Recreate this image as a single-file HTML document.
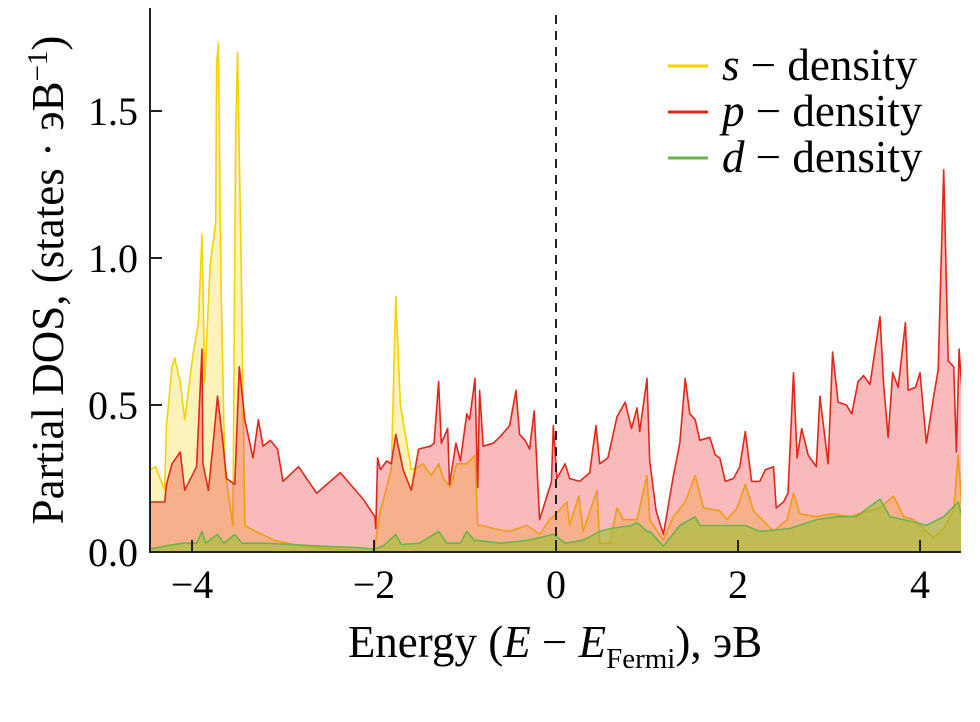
<!DOCTYPE html>
<html><head><meta charset="utf-8"><style>
html,body{margin:0;padding:0;background:#fff;}
svg{display:block;font-family:"Liberation Serif",serif;}
</style></head><body>
<svg id="chart" width="980" height="722">
<defs><clipPath id="plotclip"><rect x="150" y="8" width="811" height="545"/></clipPath></defs>
<g id="series" clip-path="url(#plotclip)"></g>
<line x1="556" y1="15" x2="556" y2="552" stroke="#222" stroke-width="2" stroke-dasharray="9,7"/>
<line x1="150" y1="8" x2="150" y2="553" stroke="#222" stroke-width="2"/>
<line x1="149" y1="552" x2="961" y2="552" stroke="#222" stroke-width="2"/>
<g id="ticks"></g>
<text x="555" y="657" font-size="45" text-anchor="middle">Energy (<tspan font-style="italic">E</tspan> − <tspan font-style="italic">E</tspan><tspan font-size="29" dy="11">Fermi</tspan><tspan dy="-11">), эВ</tspan></text>
<text transform="translate(63,280) rotate(-90)" font-size="45" text-anchor="middle">Partial DOS, (states · эВ<tspan font-size="29" dy="-16">−1</tspan><tspan dy="16">)</tspan></text>
<g>
<line x1="668" y1="66" x2="708" y2="66" stroke="#f5d300" stroke-width="3"/>
<text x="722" y="80" font-size="45"><tspan font-style="italic">s</tspan> − density</text>
<line x1="668" y1="112" x2="708" y2="112" stroke="#e0281a" stroke-width="3"/>
<text x="722" y="126" font-size="45"><tspan font-style="italic">p</tspan> − density</text>
<line x1="668" y1="158" x2="708" y2="158" stroke="#6ab44a" stroke-width="3"/>
<text x="722" y="172" font-size="45"><tspan font-style="italic">d</tspan> − density</text>
</g>
</svg>
<script>
const xTicks=[-4,-2,0,2,4];
const xTickLabels=["−4","−2","0","2","4"];
const yTicks=[0,0.5,1.0,1.5];
const yTickLabels=["0.0","0.5","1.0","1.5"];
const pEnergy=[-4.46,-4.30,-4.28,-4.22,-4.13,-4.08,-3.95,-3.89,-3.88,-3.82,-3.77,-3.72,-3.67,-3.62,-3.53,-3.48,-3.42,-3.33,-3.27,-3.22,-3.14,-3.06,-3.00,-2.83,-2.63,-2.37,-2.12,-1.99,-1.98,-1.96,-1.93,-1.86,-1.81,-1.76,-1.68,-1.59,-1.51,-1.38,-1.34,-1.29,-1.26,-1.19,-1.17,-1.10,-1.05,-0.98,-0.95,-0.89,-0.86,-0.84,-0.80,-0.69,-0.62,-0.51,-0.44,-0.40,-0.34,-0.29,-0.24,-0.18,-0.10,-0.05,-0.03,0.01,0.10,0.15,0.26,0.37,0.44,0.48,0.57,0.67,0.76,0.83,0.89,0.92,1.00,1.03,1.10,1.18,1.29,1.36,1.42,1.47,1.53,1.58,1.69,1.75,1.80,1.86,1.95,2.02,2.08,2.15,2.24,2.30,2.39,2.42,2.50,2.55,2.61,2.65,2.70,2.77,2.86,2.90,2.99,3.04,3.10,3.19,3.25,3.32,3.38,3.45,3.56,3.60,3.65,3.70,3.76,3.84,3.87,3.95,4.00,4.07,4.15,4.20,4.26,4.31,4.37,4.40,4.43,4.46];
const pValues=[0.17,0.17,0.23,0.30,0.34,0.21,0.29,0.69,0.30,0.21,0.36,0.53,0.40,0.25,0.23,0.63,0.45,0.32,0.45,0.36,0.38,0.35,0.24,0.29,0.20,0.27,0.18,0.12,0.08,0.32,0.28,0.31,0.30,0.40,0.28,0.21,0.35,0.36,0.37,0.58,0.37,0.42,0.23,0.37,0.31,0.47,0.45,0.59,0.22,0.55,0.36,0.37,0.39,0.43,0.55,0.40,0.38,0.35,0.48,0.11,0.19,0.24,0.43,0.25,0.30,0.25,0.24,0.27,0.43,0.30,0.32,0.46,0.51,0.42,0.49,0.41,0.59,0.31,0.14,0.06,0.26,0.37,0.59,0.47,0.45,0.38,0.39,0.33,0.32,0.24,0.25,0.29,0.41,0.24,0.24,0.28,0.29,0.15,0.17,0.20,0.61,0.32,0.42,0.33,0.29,0.53,0.30,0.68,0.51,0.50,0.47,0.58,0.60,0.57,0.80,0.57,0.39,0.61,0.56,0.78,0.55,0.56,0.61,0.37,0.53,0.62,1.30,0.65,0.63,0.34,0.69,0.55];
const sEnergy=[-4.46,-4.40,-4.30,-4.28,-4.22,-4.19,-4.13,-4.08,-3.99,-3.93,-3.89,-3.86,-3.80,-3.74,-3.73,-3.71,-3.68,-3.64,-3.55,-3.52,-3.50,-3.46,-3.42,-3.30,-3.10,-2.80,-2.45,-2.00,-1.97,-1.93,-1.86,-1.81,-1.76,-1.71,-1.59,-1.51,-1.46,-1.37,-1.29,-1.24,-1.16,-1.09,-0.98,-0.89,-0.86,-0.80,-0.69,-0.51,-0.32,-0.18,-0.07,-0.03,0.12,0.15,0.25,0.30,0.45,0.48,0.59,0.67,0.74,0.89,1.00,1.03,1.18,1.29,1.42,1.53,1.62,1.80,1.88,1.99,2.08,2.17,2.39,2.54,2.61,2.68,2.86,3.03,3.23,3.45,3.56,3.71,3.82,3.93,4.07,4.15,4.26,4.37,4.42,4.46];
const sValues=[0.28,0.29,0.21,0.43,0.63,0.66,0.58,0.45,0.67,0.78,1.08,0.58,0.98,1.12,1.66,1.73,0.90,0.28,0.09,1.43,1.70,1.00,0.09,0.07,0.04,0.02,0.01,0.0,0.06,0.14,0.22,0.28,0.87,0.50,0.28,0.29,0.30,0.26,0.30,0.25,0.22,0.30,0.30,0.33,0.09,0.09,0.08,0.07,0.09,0.06,0.11,0.12,0.17,0.09,0.19,0.07,0.21,0.03,0.03,0.15,0.11,0.11,0.26,0.11,0.04,0.12,0.17,0.26,0.15,0.14,0.11,0.15,0.23,0.14,0.07,0.11,0.20,0.13,0.12,0.13,0.12,0.14,0.15,0.19,0.12,0.11,0.07,0.05,0.08,0.14,0.33,0.15];
const dEnergy=[-4.46,-4.30,-4.10,-3.95,-3.89,-3.85,-3.72,-3.65,-3.53,-3.45,-3.20,-2.90,-2.60,-2.20,-2.00,-1.90,-1.76,-1.70,-1.50,-1.29,-1.20,-1.05,-0.98,-0.90,-0.60,-0.30,-0.03,0.10,0.30,0.48,0.60,0.83,0.89,1.00,1.03,1.18,1.36,1.53,1.58,1.91,2.08,2.24,2.57,2.86,3.08,3.30,3.56,3.67,3.96,4.07,4.26,4.42,4.46];
const dValues=[0.01,0.02,0.03,0.03,0.07,0.03,0.06,0.03,0.06,0.03,0.03,0.025,0.02,0.015,0.01,0.02,0.06,0.025,0.03,0.07,0.03,0.03,0.07,0.04,0.03,0.04,0.06,0.03,0.04,0.07,0.08,0.09,0.10,0.07,0.07,0.02,0.09,0.12,0.09,0.09,0.09,0.07,0.08,0.11,0.12,0.12,0.18,0.12,0.10,0.09,0.12,0.17,0.12];

const NS="http://www.w3.org/2000/svg";
function xs(e){return 556+e*91;}
function ys(v){return 552-v*294;}
const g=document.getElementById('series');
function drawSeries(E,V,fill,stroke,name){
  let pts=E.map((e,i)=>xs(e).toFixed(1)+','+ys(V[i]).toFixed(1));
  const area=document.createElementNS(NS,'polygon');
  area.setAttribute('points',xs(E[0]).toFixed(1)+','+ys(0)+' '+pts.join(' ')+' '+xs(E[E.length-1]).toFixed(1)+','+ys(0));
  area.setAttribute('fill',fill);
  
  
  g.appendChild(area);
  const line=document.createElementNS(NS,'polyline');
  line.setAttribute('points',pts.join(' '));
  line.setAttribute('fill','none');
  line.setAttribute('stroke',stroke);
  line.setAttribute('stroke-width','1.6');
  line.setAttribute('stroke-linejoin','round');
  
  
  g.appendChild(line);
}
drawSeries(sEnergy,sValues,'rgba(250,215,40,0.32)','#f5d300','s-density');
drawSeries(pEnergy,pValues,'rgba(235,45,50,0.33)','#e0281a','p-density');
drawSeries(dEnergy,dValues,'rgba(150,195,40,0.55)','#6ab44a','d-density');

const t=document.getElementById('ticks');
xTicks.forEach((v,i)=>{
  const l=document.createElementNS(NS,'line');
  l.setAttribute('x1',xs(v));l.setAttribute('x2',xs(v));l.setAttribute('y1',552);l.setAttribute('y2',540);
  l.setAttribute('stroke','#222');l.setAttribute('stroke-width','2');
  
  
  t.appendChild(l);
  const tx=document.createElementNS(NS,'text');
  tx.setAttribute('x',xs(v));tx.setAttribute('y',598);tx.setAttribute('font-size','40');tx.setAttribute('text-anchor','middle');
  tx.textContent=xTickLabels[i];
  
  
  t.appendChild(tx);
});
yTicks.forEach((v,i)=>{
  const l=document.createElementNS(NS,'line');
  l.setAttribute('x1',150);l.setAttribute('x2',162);l.setAttribute('y1',ys(v));l.setAttribute('y2',ys(v));
  l.setAttribute('stroke','#222');l.setAttribute('stroke-width','2');
  
  
  t.appendChild(l);
  const tx=document.createElementNS(NS,'text');
  tx.setAttribute('x',138);tx.setAttribute('y',ys(v)+14);tx.setAttribute('font-size','40');tx.setAttribute('text-anchor','end');
  tx.textContent=yTickLabels[i];
  
  
  t.appendChild(tx);
});
</script>
</body></html>
